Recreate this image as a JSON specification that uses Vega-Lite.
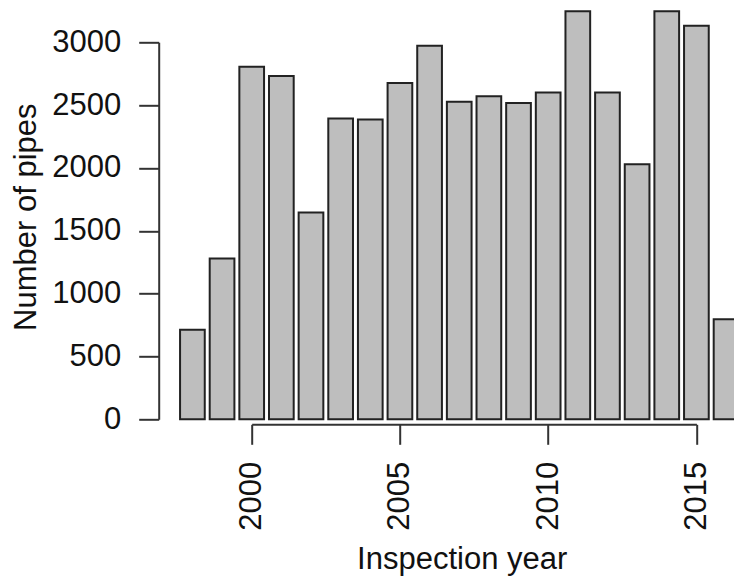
{
  "$schema": "https://vega.github.io/schema/vega-lite/v6.json",
  "width": 444.7,
  "height": 377,
  "autosize": {"type": "none"},
  "padding": {"left": 251.7, "top": 42.3, "right": 37.6, "bottom": 161.7},
  "background": "white",
  "config": {
    "view": {"stroke": null},
    "font": "Liberation Sans"
  },
  "data": {
    "values": [
      {"year": 1998, "pipes": 712},
      {"year": 1999, "pipes": 1280},
      {"year": 2000, "pipes": 2805},
      {"year": 2001, "pipes": 2731},
      {"year": 2002, "pipes": 1645},
      {"year": 2003, "pipes": 2393},
      {"year": 2004, "pipes": 2385},
      {"year": 2005, "pipes": 2677},
      {"year": 2006, "pipes": 2972},
      {"year": 2007, "pipes": 2526},
      {"year": 2008, "pipes": 2571},
      {"year": 2009, "pipes": 2516},
      {"year": 2010, "pipes": 2600},
      {"year": 2011, "pipes": 3248},
      {"year": 2012, "pipes": 2600},
      {"year": 2013, "pipes": 2030},
      {"year": 2014, "pipes": 3248},
      {"year": 2015, "pipes": 3131},
      {"year": 2016, "pipes": 797}
    ]
  },
  "mark": {"type": "bar", "width": 24.7, "fill": "#bebebe", "stroke": "#222222", "strokeWidth": 2, "clip": false},
  "encoding": {
    "x": {
      "field": "year",
      "type": "quantitative",
      "scale": {"domain": [2000, 2015], "nice": false, "zero": false, "padding": 0},
      "axis": {
        "offset": 5,
        "values": [2000, 2005, 2010, 2015],
        "format": "d",
        "grid": false,
        "tickSize": 20,
        "tickWidth": 2,
        "tickColor": "#333333",
        "domainColor": "#333333",
        "domainWidth": 2,
        "labelAngle": 270,
        "labelFontSize": 31,
        "labelColor": "#111111",
        "labelPadding": 17,
        "labelFlush": false,
        "labelOverlap": false,
        "title": "Inspection year",
        "titleFontSize": 31,
        "titleFontWeight": "normal",
        "titleColor": "#111111",
        "titleX": 210,
        "titleY": 143.7,
        "titleAlign": "center",
        "titleBaseline": "alphabetic"
      }
    },
    "y": {
      "field": "pipes",
      "type": "quantitative",
      "scale": {"domain": [0, 3000], "nice": false},
      "axis": {
        "offset": 93,
        "values": [0, 500, 1000, 1500, 2000, 2500, 3000],
        "format": "d",
        "grid": false,
        "tickSize": 20,
        "tickWidth": 2,
        "tickColor": "#333333",
        "domainColor": "#333333",
        "domainWidth": 2,
        "labelAngle": 0,
        "labelFontSize": 31,
        "labelColor": "#111111",
        "labelPadding": 18,
        "labelFlush": false,
        "labelOverlap": false,
        "title": "Number of pipes",
        "titleFontSize": 31,
        "titleFontWeight": "normal",
        "titleColor": "#111111",
        "titleX": -123,
        "titleY": 174.4,
        "titleAngle": 270,
        "titleAlign": "center",
        "titleBaseline": "alphabetic"
      }
    }
  }
}
